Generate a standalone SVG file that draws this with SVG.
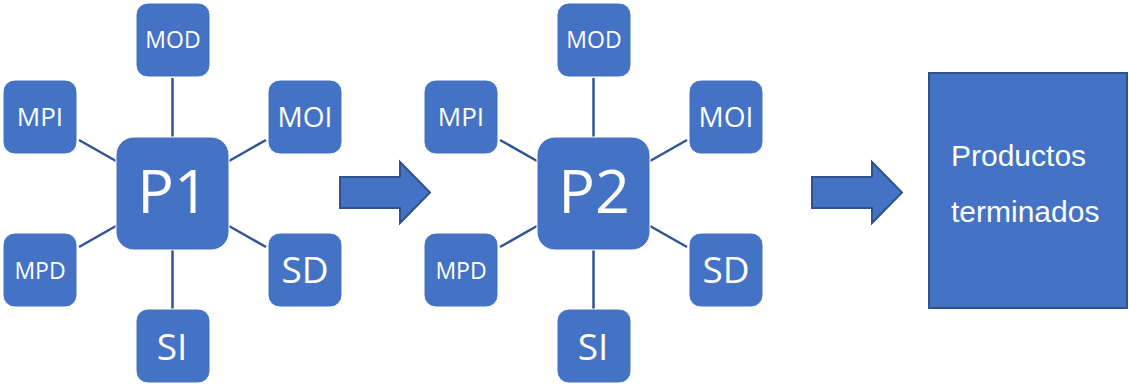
<svg xmlns="http://www.w3.org/2000/svg" width="1129" height="388" viewBox="0 0 1129 388">
  <defs>
    <style>
      .box { fill: #4472C4; stroke: #FFFFFF; stroke-width: 1; }
      .lbl { fill: #FFFFFF; font-family: "Open Sans", "Noto Sans", sans-serif; text-anchor: middle; }
      .link { stroke: #2F5597; stroke-width: 2.5; fill: none; }
      .arrow { fill: #4472C4; stroke: #2F528F; stroke-width: 2; stroke-linejoin: miter; }
      .final { fill: #4472C4; stroke: #2F528F; stroke-width: 2; }
      .ftxt { fill: #FFFFFF; font-family: "Liberation Sans", Arial, sans-serif; font-size: 30px; }
    </style>
    <!-- one process cluster: centre node with six satellites -->
    <g id="cluster-links">
      <line class="link" x1="172.5" y1="78" x2="172.5" y2="137"/>
      <line class="link" x1="79" y1="140" x2="116" y2="161"/>
      <line class="link" x1="229" y1="161" x2="266" y2="140"/>
      <line class="link" x1="116" y1="226" x2="79" y2="247"/>
      <line class="link" x1="229" y1="226" x2="266" y2="247"/>
      <line class="link" x1="172.5" y1="250" x2="172.5" y2="309"/>
    </g>
  </defs>

  <!-- connectors -->
  <g id="connectors">
    <use href="#cluster-links"/>
    <use href="#cluster-links" transform="translate(421,0)"/>
    <path class="arrow" d="M340,177 H400 V162 L430,192.5 L400,223 V208 H340 Z"/>
    <path class="arrow" d="M812,177 H872 V162 L902,192.5 L872,223 V208 H812 Z"/>
  </g>

  <!-- process 1 -->
  <g id="p1-cluster">
    <g id="p1-mod"><rect class="box" x="136" y="3" width="74" height="74" rx="12"/><text class="lbl" x="173" y="48" font-size="23">MOD</text></g>
    <g id="p1-mpi"><rect class="box" x="3" y="80" width="74" height="74" rx="12"/><text class="lbl" x="40" y="126" font-size="26">MPI</text></g>
    <g id="p1-moi"><rect class="box" x="268" y="80" width="74" height="74" rx="12"/><text class="lbl" x="305" y="127" font-size="28">MOI</text></g>
    <g id="p1-main"><rect class="box" x="116" y="137" width="113" height="113" rx="18"/><text class="lbl" x="173" y="213" font-size="61">P1</text></g>
    <g id="p1-mpd"><rect class="box" x="3" y="233" width="74" height="74" rx="12"/><text class="lbl" x="40" y="279" font-size="23">MPD</text></g>
    <g id="p1-sd"><rect class="box" x="268" y="233" width="74" height="74" rx="12"/><text class="lbl" x="305" y="283" font-size="37">SD</text></g>
    <g id="p1-si"><rect class="box" x="136" y="309" width="74" height="74" rx="12"/><text class="lbl" x="172" y="360" font-size="37">SI</text></g>
  </g>

  <!-- process 2 -->
  <g id="p2-cluster" transform="translate(421,0)">
    <g id="p2-mod"><rect class="box" x="136" y="3" width="74" height="74" rx="12"/><text class="lbl" x="173" y="48" font-size="23">MOD</text></g>
    <g id="p2-mpi"><rect class="box" x="3" y="80" width="74" height="74" rx="12"/><text class="lbl" x="40" y="126" font-size="26">MPI</text></g>
    <g id="p2-moi"><rect class="box" x="268" y="80" width="74" height="74" rx="12"/><text class="lbl" x="305" y="127" font-size="28">MOI</text></g>
    <g id="p2-main"><rect class="box" x="116" y="137" width="113" height="113" rx="18"/><text class="lbl" x="173" y="213" font-size="61">P2</text></g>
    <g id="p2-mpd"><rect class="box" x="3" y="233" width="74" height="74" rx="12"/><text class="lbl" x="40" y="279" font-size="23">MPD</text></g>
    <g id="p2-sd"><rect class="box" x="268" y="233" width="74" height="74" rx="12"/><text class="lbl" x="305" y="283" font-size="37">SD</text></g>
    <g id="p2-si"><rect class="box" x="136" y="309" width="74" height="74" rx="12"/><text class="lbl" x="172" y="360" font-size="37">SI</text></g>
  </g>

  <!-- finished goods -->
  <g id="finished">
    <rect class="final" x="929" y="73" width="198" height="235"/>
    <text class="ftxt" x="951" y="166">Productos</text>
    <text class="ftxt" x="951" y="222">terminados</text>
  </g>
</svg>
